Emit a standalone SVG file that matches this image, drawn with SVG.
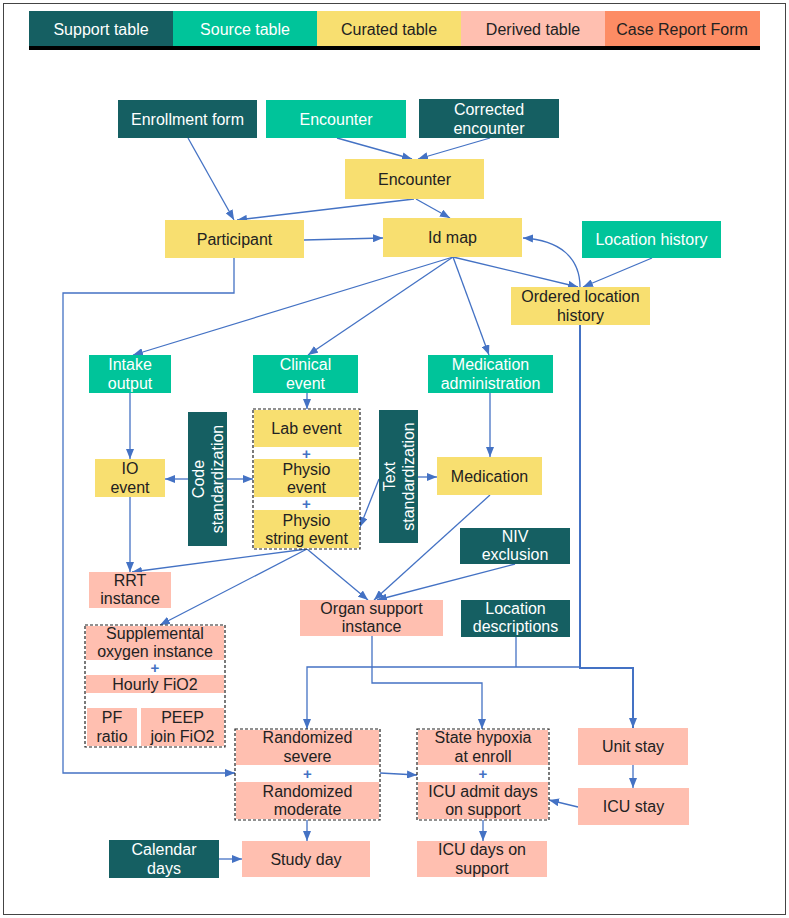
<svg xmlns="http://www.w3.org/2000/svg" width="789" height="918" viewBox="0 0 789 918">
<style>
text{font-family:"Liberation Sans",Arial,sans-serif;font-size:16px;text-anchor:middle}
.sup{fill:#155F62}.src{fill:#00C49A}.cur{fill:#F8DF70}.der{fill:#FFBFB0}.crf{fill:#FD8C64}
.w{fill:#ffffff}.d{fill:#222222}
.grp{fill:#ffffff;stroke:#222;stroke-width:1.2;stroke-dasharray:3,2}
.plus{fill:#4472C4;font-weight:bold;font-size:15px}
.c{fill:none;stroke:#4472C4;stroke-width:1.3}
.t{fill:none;stroke:#4472C4;stroke-width:2}
.lg{font-size:16px}
</style>
<defs>
<marker id="a" viewBox="0 0 10 8" refX="10" refY="4" markerWidth="10" markerHeight="8" orient="auto" markerUnits="userSpaceOnUse"><path d="M0,0 L10,4 L0,8 z" fill="#4472C4"/></marker>
</defs>
<rect x="0" y="0" width="789" height="918" fill="#ffffff"/>
<rect x="3.5" y="3.5" width="782" height="911" fill="none" stroke="#444" stroke-width="1"/>
<g id="legend">
<rect x="29" y="11" width="144" height="36" class="sup"/>
<rect x="173" y="11" width="144" height="36" class="src"/>
<rect x="317" y="11" width="144" height="36" class="cur"/>
<rect x="461" y="11" width="144" height="36" class="der"/>
<rect x="605" y="11" width="155" height="36" class="crf"/>
<rect x="29" y="46" width="731" height="4" fill="#000"/>
<text x="101" y="35" class="w lg">Support table</text>
<text x="245" y="35" class="w lg">Source table</text>
<text x="389" y="35" class="d lg">Curated table</text>
<text x="533" y="35" class="d lg">Derived table</text>
<text x="682" y="35" class="d lg">Case Report Form</text>
</g>
<g id="connectors">
<line class="c" x1="188" y1="138" x2="234" y2="220" marker-end="url(#a)"/>
<line class="c" x1="337" y1="138" x2="412" y2="159" marker-end="url(#a)"/>
<line class="c" x1="490" y1="138" x2="418" y2="159" marker-end="url(#a)"/>
<line class="c" x1="414" y1="199" x2="237" y2="220" marker-end="url(#a)"/>
<line class="c" x1="416" y1="199" x2="450" y2="218" marker-end="url(#a)"/>
<line class="c" x1="304" y1="240" x2="383" y2="238" marker-end="url(#a)"/>
<path class="c" d="M580,287 C580,258 560,240 523,238" marker-end="url(#a)"/>
<line class="c" x1="652" y1="258" x2="583" y2="287" marker-end="url(#a)"/>
<line class="c" x1="453" y1="257" x2="578" y2="287" marker-end="url(#a)"/>
<line class="c" x1="453" y1="257" x2="133" y2="355" marker-end="url(#a)"/>
<line class="c" x1="453" y1="257" x2="308" y2="355" marker-end="url(#a)"/>
<line class="c" x1="453" y1="257" x2="489" y2="355" marker-end="url(#a)"/>
<path class="c" d="M234,258 V293 H63 V773 H235" marker-end="url(#a)"/>
<line class="c" x1="130" y1="393" x2="130" y2="459" marker-end="url(#a)"/>
<line class="c" x1="307" y1="393" x2="307" y2="409" marker-end="url(#a)"/>
<line class="c" x1="490" y1="393" x2="490" y2="457" marker-end="url(#a)"/>
<line class="c" x1="188" y1="479" x2="165" y2="479" marker-end="url(#a)"/>
<line class="c" x1="227" y1="479" x2="253" y2="479" marker-end="url(#a)"/>
<line class="c" x1="379" y1="479" x2="360" y2="527" marker-end="url(#a)"/>
<line class="c" x1="418" y1="477" x2="437" y2="477" marker-end="url(#a)"/>
<line class="c" x1="130" y1="497" x2="130" y2="572" marker-end="url(#a)"/>
<line class="c" x1="307" y1="549" x2="132" y2="572" marker-end="url(#a)"/>
<line class="c" x1="307" y1="549" x2="160" y2="625" marker-end="url(#a)"/>
<line class="c" x1="307" y1="549" x2="368" y2="600" marker-end="url(#a)"/>
<line class="c" x1="490" y1="495" x2="374" y2="600" marker-end="url(#a)"/>
<line class="c" x1="515" y1="564" x2="377" y2="600" marker-end="url(#a)"/>
<line class="c" x1="157" y1="693" x2="115" y2="708" marker-end="url(#a)"/>
<line class="c" x1="157" y1="693" x2="180" y2="708" marker-end="url(#a)"/>
<path class="c" d="M372,636 V683 H482 V729" marker-end="url(#a)"/>
<line class="c" x1="516" y1="637" x2="516" y2="667"/>
<path class="c" d="M580,667 H307 V729" marker-end="url(#a)"/>
<path class="t" d="M580,325 V668 H633 V728" marker-end="url(#a)"/>
<line class="c" x1="380" y1="773" x2="417" y2="775" marker-end="url(#a)"/>
<line class="c" x1="578" y1="807" x2="549" y2="800" marker-end="url(#a)"/>
<line class="c" x1="633" y1="765" x2="633" y2="788" marker-end="url(#a)"/>
<line class="c" x1="307" y1="820" x2="307" y2="841" marker-end="url(#a)"/>
<line class="c" x1="483" y1="820" x2="483" y2="841" marker-end="url(#a)"/>
<line class="c" x1="219" y1="859" x2="242" y2="859" marker-end="url(#a)"/>
</g>
<g id="enrollment-form"><rect x="118" y="100" width="139" height="38" class="sup"/><text x="187.5" y="125" class="w">Enrollment form</text></g>
<g id="encounter-source"><rect x="266" y="100" width="140" height="38" class="src"/><text x="336" y="125" class="w">Encounter</text></g>
<g id="corrected-encounter"><rect x="419" y="99" width="140" height="39" class="sup"/><text x="489" y="115" class="w">Corrected</text><text x="489" y="134" class="w">encounter</text></g>
<g id="encounter-curated"><rect x="345" y="159" width="139" height="40" class="cur"/><text x="414.5" y="185" class="d">Encounter</text></g>
<g id="participant"><rect x="165" y="220" width="139" height="38" class="cur"/><text x="234.5" y="245" class="d">Participant</text></g>
<g id="id-map"><rect x="383" y="218" width="139" height="39" class="cur"/><text x="452.5" y="243" class="d">Id map</text></g>
<g id="location-history"><rect x="582" y="221" width="139" height="37" class="src"/><text x="651.5" y="245" class="w">Location history</text></g>
<g id="ordered-location-history"><rect x="511" y="287" width="139" height="38" class="cur"/><text x="580.5" y="302" class="d">Ordered location</text><text x="580.5" y="321" class="d">history</text></g>
<g id="intake-output"><rect x="89" y="355" width="82" height="38" class="src"/><text x="130" y="370" class="w">Intake</text><text x="130" y="389" class="w">output</text></g>
<g id="clinical-event"><rect x="253" y="355" width="105" height="38" class="src"/><text x="305.5" y="370" class="w">Clinical</text><text x="305.5" y="389" class="w">event</text></g>
<g id="medication-administration"><rect x="428" y="355" width="125" height="38" class="src"/><text x="490.5" y="370" class="w">Medication</text><text x="490.5" y="389" class="w">administration</text></g>
<g id="code-standardization"><rect x="188" y="412" width="39" height="134" class="sup"/><g transform="translate(207.5,479) rotate(-90)"><text x="0" y="-4" class="w">Code</text><text x="0" y="15" class="w">standardization</text></g></g>
<g id="event-group"><rect x="253" y="409" width="107" height="140" class="grp"/>
<rect x="254" y="410" width="105" height="37" class="cur"/><text x="306.5" y="434" class="d">Lab event</text>
<text x="306.5" y="458.5" class="plus">+</text>
<rect x="254" y="459" width="105" height="38" class="cur"/><text x="306.5" y="475" class="d">Physio</text><text x="306.5" y="493" class="d">event</text>
<text x="306.5" y="508.5" class="plus">+</text>
<rect x="254" y="510" width="105" height="38" class="cur"/><text x="306.5" y="526" class="d">Physio</text><text x="306.5" y="544" class="d">string event</text>
</g>
<g id="io-event"><rect x="95" y="459" width="70" height="38" class="cur"/><text x="130" y="474" class="d">IO</text><text x="130" y="493" class="d">event</text></g>
<g id="text-standardization"><rect x="379" y="410" width="39" height="133" class="sup"/><g transform="translate(398.5,476.5) rotate(-90)"><text x="0" y="-4" class="w">Text</text><text x="0" y="15" class="w">standardization</text></g></g>
<g id="medication"><rect x="437" y="457" width="105" height="38" class="cur"/><text x="489.5" y="482" class="d">Medication</text></g>
<g id="niv-exclusion"><rect x="460" y="528" width="110" height="36" class="sup"/><text x="515" y="542" class="w">NIV</text><text x="515" y="560" class="w">exclusion</text></g>
<g id="rrt-instance"><rect x="89" y="572" width="82" height="36" class="der"/><text x="130" y="586" class="d">RRT</text><text x="130" y="604" class="d">instance</text></g>
<g id="organ-support-instance"><rect x="300" y="600" width="143" height="36" class="der"/><text x="371.5" y="614" class="d">Organ support</text><text x="371.5" y="632" class="d">instance</text></g>
<g id="location-descriptions"><rect x="461" y="600" width="109" height="37" class="sup"/><text x="515.5" y="614" class="w">Location</text><text x="515.5" y="632" class="w">descriptions</text></g>
<g id="oxygen-group"><rect x="85" y="625" width="140" height="122" class="grp"/>
<rect x="86" y="626" width="138" height="34" class="der"/><text x="155" y="639" class="d">Supplemental</text><text x="155" y="657" class="d">oxygen instance</text>
<text x="155" y="673" class="plus">+</text>
<rect x="86" y="675" width="138" height="18" class="der"/><text x="155" y="690" class="d">Hourly FiO2</text>
<rect x="87" y="708" width="50" height="38" class="der"/><text x="112" y="723" class="d">PF</text><text x="112" y="742" class="d">ratio</text>
<rect x="141" y="708" width="83" height="38" class="der"/><text x="182.5" y="723" class="d">PEEP</text><text x="182.5" y="742" class="d">join FiO2</text>
</g>
<g id="randomized-group"><rect x="235" y="729" width="145" height="91" class="grp"/>
<rect x="236" y="730" width="143" height="35" class="der"/><text x="307.5" y="743" class="d">Randomized</text><text x="307.5" y="762" class="d">severe</text>
<text x="307.5" y="779" class="plus">+</text>
<rect x="236" y="782" width="143" height="37" class="der"/><text x="307.5" y="797" class="d">Randomized</text><text x="307.5" y="815" class="d">moderate</text>
</g>
<g id="hypoxia-group"><rect x="417" y="729" width="132" height="91" class="grp"/>
<rect x="418" y="730" width="130" height="35" class="der"/><text x="483" y="743" class="d">State hypoxia</text><text x="483" y="762" class="d">at enroll</text>
<text x="483" y="779" class="plus">+</text>
<rect x="418" y="782" width="130" height="37" class="der"/><text x="483" y="797" class="d">ICU admit days</text><text x="483" y="815" class="d">on support</text>
</g>
<g id="unit-stay"><rect x="578" y="728" width="110" height="37" class="der"/><text x="633" y="752" class="d">Unit stay</text></g>
<g id="icu-stay"><rect x="578" y="788" width="111" height="37" class="der"/><text x="633.5" y="812" class="d">ICU stay</text></g>
<g id="calendar-days"><rect x="109" y="840" width="110" height="38" class="sup"/><text x="164" y="855" class="w">Calendar</text><text x="164" y="874" class="w">days</text></g>
<g id="study-day"><rect x="242" y="841" width="128" height="36" class="der"/><text x="306" y="865" class="d">Study day</text></g>
<g id="icu-days-on-support"><rect x="417" y="841" width="130" height="36" class="der"/><text x="482" y="855" class="d">ICU days on</text><text x="482" y="874" class="d">support</text></g>
</svg>
